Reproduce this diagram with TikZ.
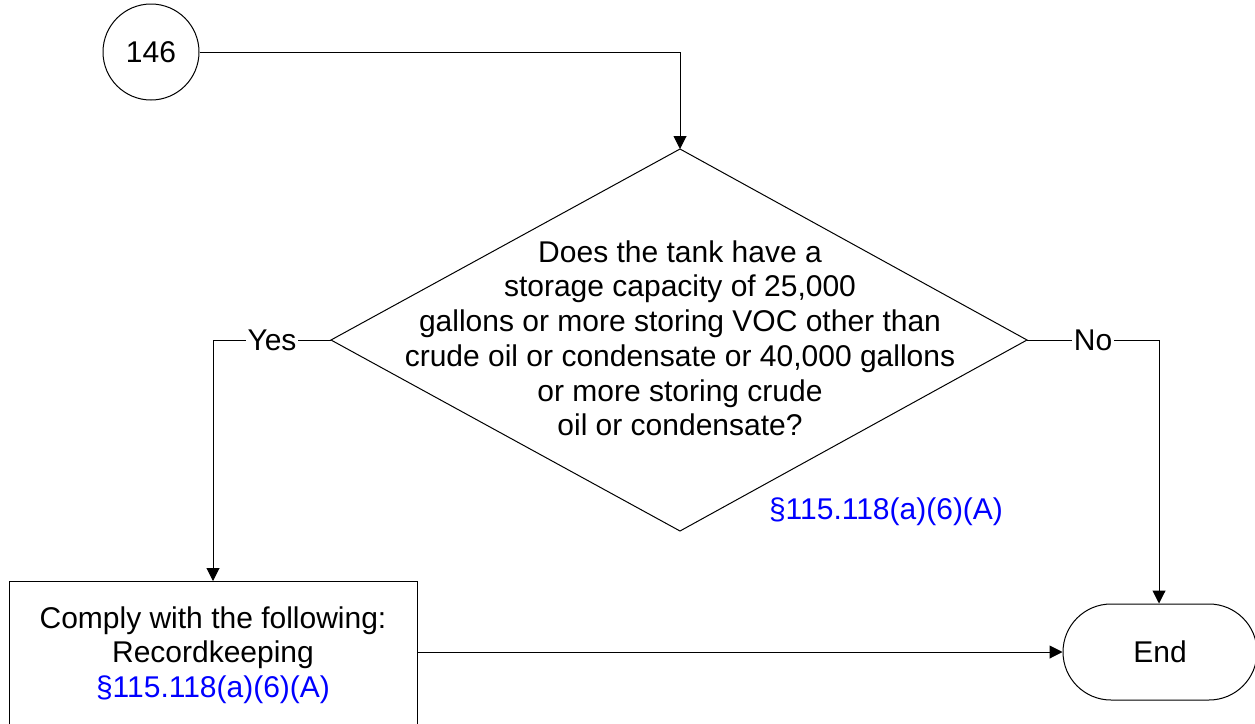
\documentclass[tikz,border=0pt]{standalone}
\usepackage{fontspec}
\setmainfont{Liberation Sans}
\usetikzlibrary{arrows.meta}
\definecolor{refblue}{RGB}{0,0,255}
\begin{document}
\begin{tikzpicture}[x=1pt,y=-1pt, line width=1pt,
  every node/.style={font=\fontsize{30}{34.7}\selectfont},
  arr/.style={-{Triangle[length=13pt,width=13pt]}},
  lbl/.style={fill=white, inner sep=2pt},
  reftxt/.style={text=refblue},
  shapebox/.style={draw, fill=white, align=center}]
\useasboundingbox (0,0) rectangle (1255,723);
% start connector circle
\node[shapebox, circle, minimum size=96pt, inner sep=0pt] (c146) at (151,52) {146};
% decision diamond
\coordinate (dtop) at (680,149);
\coordinate (dleft) at (331,340);
\coordinate (dright) at (1027,340);
\coordinate (dbot) at (680,531);
\draw (dtop) -- (dright) -- (dbot) -- (dleft) -- cycle;
\node[align=center, anchor=north, inner sep=0pt] (qtext) at (680,240)
  {Does the tank have a\\storage capacity of 25,000\\gallons or more storing VOC other than\\crude oil or condensate or 40,000 gallons\\or more storing crude\\oil or condensate?};
\node[reftxt, anchor=base, inner sep=0pt] (qref) at (886,519) {§115.118(a)(6)(A)};
% action box
\node[shapebox, anchor=north, minimum width=408pt, minimum height=147pt, inner sep=0pt] (box) at (213,581)
  {Comply with the following:\\Recordkeeping\\\textcolor{refblue}{§115.118(a)(6)(A)}};
% end terminator
\node[shapebox, rectangle, rounded corners=48pt, minimum width=194pt, minimum height=96pt, inner sep=0pt] (endnode) at (1160,652) {End};
% connectors
\coordinate (ctop) at (680,52);
\coordinate (cyes) at (213,340);
\coordinate (cno) at (1159,340);
\draw[arr] (c146.east) -- (ctop) -- (dtop);
\draw[arr] (dleft) -- node[lbl] (yes) {Yes} (cyes) -- (box.north);
\draw[arr] (dright) -- node[lbl] (no) {No} (cno) -- (cno |- endnode.north);
\draw[arr] (box.east |- endnode.west) -- (endnode.west);
\end{tikzpicture}
\end{document}
